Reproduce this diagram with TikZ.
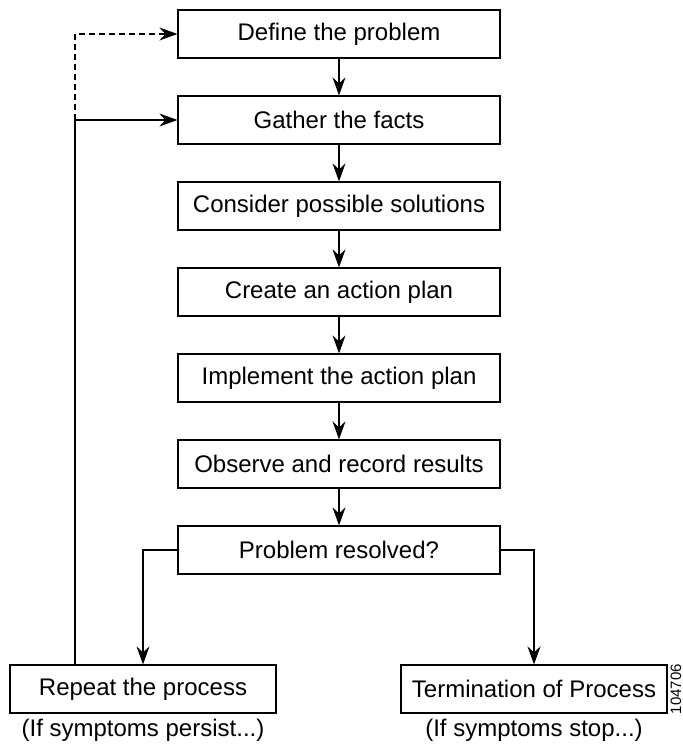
\documentclass[tikz,border=0pt]{standalone}
\usepackage{fontspec}
\setmainfont{Liberation Sans}
\usetikzlibrary{arrows.meta}

\begin{document}
\begin{tikzpicture}[x=0.5pt,y=-0.5pt,
  stepbox/.style={draw, line width=0.6pt, minimum width=161pt, minimum height=24pt, inner sep=0pt, font=\fontsize{12}{14}\selectfont},
  endbox/.style={stepbox, minimum width=133pt},
  note/.style={font=\fontsize{12}{14}\selectfont, inner sep=0pt},
  flow/.style={draw, line width=0.7pt, -{Stealth[length=9pt,width=6.5pt,inset=3pt]}}]
\useasboundingbox (0,0) rectangle (683,748);

\node[stepbox] (define) at (339,34) {Define the problem};
\node[stepbox] (gather) at (339,120) {Gather the facts};
\path[flow] (define) -- (gather);
\node[stepbox] (consider) at (339,206) {Consider possible solutions};
\path[flow] (gather) -- (consider);
\node[stepbox] (plan) at (339,292) {Create an action plan};
\path[flow] (consider) -- (plan);
\node[stepbox] (implement) at (339,378) {Implement the action plan};
\path[flow] (plan) -- (implement);
\node[stepbox] (observe) at (339,464) {Observe and record results};
\path[flow] (implement) -- (observe);
\node[stepbox] (resolved) at (339,550) {Problem resolved?};
\path[flow] (observe) -- (resolved);

\node[endbox] (repeat) at (143,689) {Repeat the process};
\path[flow] (resolved.west) -| (repeat.north);
\node[endbox] (stop) at (534,689) {Termination of Process};
\path[flow] (resolved.east) -| (stop.north);

\node[note] (persist) at (143,730) {(If symptoms persist...)};
\node[note] (stopped) at (534,730) {(If symptoms stop...)};

% loop back
\coordinate (back) at (75,0);
\path[flow] (back |- repeat.north) |- (gather.west);
\path[flow, dashed, dash pattern=on 3pt off 2pt] (back |- gather.west) |- (define.west);

\node[rotate=90, inner sep=0pt, font=\fontsize{7.5}{9}\selectfont] (figno) at (676,689) {104706};
\end{tikzpicture}
\end{document}
